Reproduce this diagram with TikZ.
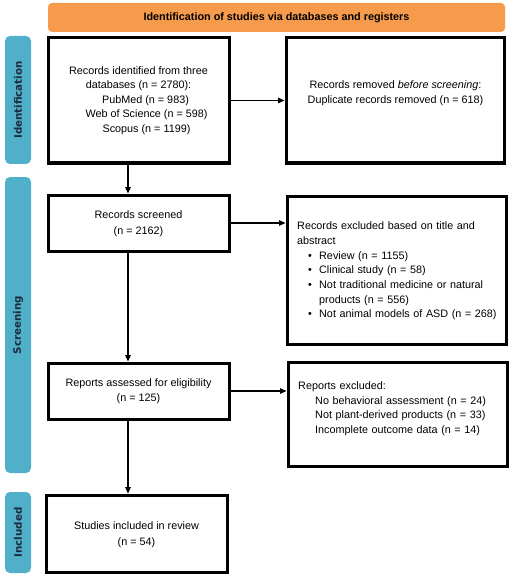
\documentclass[tikz,border=0pt]{standalone}
\usepackage{fontspec}
\setmainfont{Liberation Sans}
\newfontfamily\sidefont{DejaVu Sans}
\usetikzlibrary{arrows.meta}
\definecolor{hdrcol}{HTML}{F69A4C}
\definecolor{sidecol}{HTML}{50AFC9}
\definecolor{sidetxt}{HTML}{1C2B3C}
\newcommand\bitem[1]{\hspace*{11pt}\makebox[11pt][l]{•}#1}
\begin{document}
\begin{tikzpicture}[x=1pt,y=-1pt,
  box/.style={draw=black, line width=3pt, fill=white, inner sep=0pt},
  txt/.style={font=\fontsize{10.8}{14.5}\selectfont, inner sep=0pt, align=center},
  ltxt/.style={font=\fontsize{10.8}{14.7}\selectfont, inner sep=0pt, align=left, anchor=north west, text width=206pt},
  arr/.style={line width=1.3pt, -{Triangle[length=6.5pt,width=5.5pt]}},
  sidebar/.style={fill=sidecol, rounded corners=5pt, draw=none, minimum width=26pt, inner sep=0pt},
  sidelabel/.style={font=\sidefont\bfseries\fontsize{10.3}{12}\selectfont, text=sidetxt, rotate=90, inner sep=0pt}]
\useasboundingbox (0,0) rectangle (514,580);

% header
\node[fill=hdrcol, rounded corners=4pt, minimum width=457pt, minimum height=29pt, inner sep=0pt] (hdr) at (276.5,17.5) {};
\node[font=\bfseries\fontsize{10.8}{13}\selectfont, inner sep=0pt] (hdrt) at (hdr) {Identification of studies via databases and registers};

% sidebars
\node[sidebar, minimum height=128pt] (sid) at (18,100) {};
\node[sidelabel] (sidl) at (sid) {Identification};
\node[sidebar, minimum height=296pt] (sscr) at (18,325) {};
\node[sidelabel] (sscrl) at (sscr) {Screening};
\node[sidebar, minimum height=81pt] (sinc) at (18,532.5) {};
\node[sidelabel] (sincl) at (sinc) {Included};

% boxes
\node[box, minimum width=181pt, minimum height=125pt] (b1) at (138.5,100.5) {};
\node[box, minimum width=218pt, minimum height=125pt] (b2) at (395,100.5) {};
\node[box, minimum width=181pt, minimum height=56pt] (scr) at (138.5,223) {};
\node[box, minimum width=219pt, minimum height=148pt] (ex1) at (396.5,270) {};
\node[box, minimum width=181pt, minimum height=56pt] (ass) at (138.5,391) {};
\node[box, minimum width=219pt, minimum height=104pt] (ex2) at (397.5,414) {};
\node[box, minimum width=181pt, minimum height=77pt] (inc) at (136.5,533.5) {};

% texts
\node[txt] (b1t) at (138.5,100.5) {Records identified from three\\databases (n = 2780):\\\hspace*{14pt}PubMed (n = 983)\\\hspace*{16pt}Web of Science (n = 598)\\\hspace*{16pt}Scopus (n = 1199)};
\node[txt] (b2t) at (395.5,93) {Records removed \textit{before screening}:\\Duplicate records removed (n = 618)};
\node[txt, font=\fontsize{10.8}{16.5}\selectfont] (scrt) at (138.5,223.5) {Records screened\\(n = 2162)};
\node[ltxt] (ex1t) at (297,219.3) {\strut Records excluded based on title and\\abstract\\\bitem{Review (n = 1155)}\\\bitem{Clinical study (n = 58)}\\\bitem{Not traditional medicine or natural}\\\hspace*{22pt}products (n = 556)\\\bitem{Not animal models of ASD (n = 268)}};
\node[txt, font=\fontsize{10.8}{15}\selectfont] (asst) at (138.5,391) {Reports assessed for eligibility\\(n = 125)};
\node[ltxt, font=\fontsize{10.8}{14.5}\selectfont] (ex2t) at (298,379.3) {\strut Reports excluded:\\\hspace*{17pt}No behavioral assessment (n = 24)\\\hspace*{17pt}Not plant-derived products (n = 33)\\\hspace*{17pt}Incomplete outcome data (n = 14)};
\node[txt, font=\fontsize{10.8}{16}\selectfont] (inct) at (136.5,535) {Studies included in review\\(n = 54)};

% arrows
\coordinate (ax) at (128,0);
\draw[arr] (b1.south -| ax) -- (scr.north -| ax);
\draw[arr] (scr.south -| ax) -- (ass.north -| ax);
\draw[arr] (ass.south -| ax) -- (inc.north -| ax);
\draw[arr] (b1.east) -- (b1.east -| b2.west);
\draw[arr] (scr.east) -- (scr.east -| ex1.west);
\draw[arr] (ass.east) -- (ass.east -| ex2.west);
\end{tikzpicture}
\end{document}
